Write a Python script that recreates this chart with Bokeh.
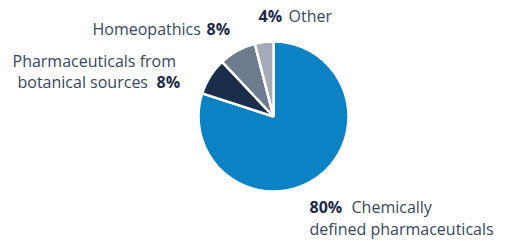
import math
from bokeh.plotting import figure
from bokeh.models import Range1d, ColumnDataSource
from bokeh.core.properties import value
from bokeh.embed import file_html
from bokeh.resources import INLINE

# ---- data ----
categories = ["Chemically defined pharmaceuticals",
              "Pharmaceuticals from botanical sources",
              "Homeopathics",
              "Other"]
shares = [80, 8, 8, 4]
colors = ["#0a82c4", "#1a2d4b", "#6e7b8e", "#a3aab8"]

W, H = 508, 241
p = figure(width=W, height=H, output_backend="svg", toolbar_location=None,
           x_range=Range1d(0, W), y_range=Range1d(0, H), min_border=0,
           outline_line_color=None)
p.axis.visible = False
p.grid.visible = False
p.background_fill_color = "white"
p.border_fill_color = "white"

total = float(sum(shares))
starts, ends = [], []
cum = 0.0
for s in shares:
    a0 = math.pi / 2 - 2 * math.pi * cum / total
    cum += s
    a1 = math.pi / 2 - 2 * math.pi * cum / total
    starts.append(a0)
    ends.append(a1)

cx, cy, r = 273, 125, 75
src = ColumnDataSource(dict(start=starts, end=ends, color=colors))
p.wedge(x=cx, y=cy, radius=r, start_angle="start", end_angle="end",
        direction="clock", fill_color="color", line_color="white",
        line_width=2.5, source=src)

FONT = value("Open Sans")
NORMAL_C = "#364760"
BOLD_C = "#1c2a45"
FS = "16px"
DY = 7

def txt(x, y, s, bold=False):
    p.text(x=[x], y=[y + DY], text=[s], text_font=FONT, text_font_size=FS,
           text_color=BOLD_C if bold else NORMAL_C,
           text_font_style="bold" if bold else "normal",
           text_baseline="alphabetic", text_align="left")

pct = [f"{v}%" for v in shares]

# Homeopathics
txt(92, 206, categories[2])
txt(206, 206, pct[2], bold=True)
# Other
txt(258, 219, pct[3], bold=True)
txt(288, 219, categories[3])
# Botanical
txt(12, 174, "Pharmaceuticals from")
txt(17, 153, "botanical sources")
txt(156, 153, pct[1], bold=True)
# Chemically defined
txt(309, 28, pct[0], bold=True)
txt(351, 28, "Chemically")
txt(309, 6, "defined pharmaceuticals")

open("out.html", "w").write(file_html(p, INLINE))
